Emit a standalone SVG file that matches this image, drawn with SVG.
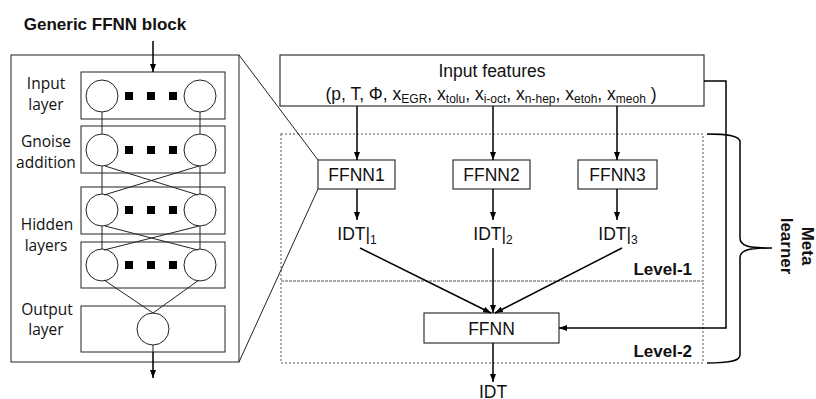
<svg xmlns="http://www.w3.org/2000/svg" width="816" height="399" viewBox="0 0 816 399">
<defs>
<marker id="ah" markerUnits="userSpaceOnUse" markerWidth="8" markerHeight="6" refX="8" refY="3" orient="auto">
<path d="M0,0 L8,3 L0,6 z" fill="#000"/>
</marker>
<style>
.thin{fill:none;stroke:#222;stroke-width:1}
.box{fill:#fff;stroke:#333;stroke-width:1.2}
.circ{fill:#fff;stroke:#222;stroke-width:1}
.sq{fill:#000}
.arr{fill:none;stroke:#000;stroke-width:1.5;marker-end:url(#ah)}
.ln{fill:none;stroke:#000;stroke-width:1.5}
.dot{fill:none;stroke:#aaa;stroke-width:2;stroke-dasharray:2 2}
.lbl{font-family:"Open Sans",sans-serif;font-size:15.5px;fill:#111;text-anchor:middle}
.t{font-family:"Liberation Sans",Arial,sans-serif;font-size:17.5px;fill:#111;text-anchor:middle}
.b{font-family:"Liberation Sans",Arial,sans-serif;font-size:17px;font-weight:bold;fill:#111}
.sub{font-size:12px}
</style>
</defs>
<rect width="816" height="399" fill="#fff"/>

<text class="b" x="105" y="30" text-anchor="middle" font-size="18">Generic FFNN block</text>

<g id="generic-block">
<rect x="11" y="55" width="228" height="307" class="thin"/>
<g id="input-layer">
<rect x="81" y="72" width="144" height="47" class="thin"/>
<circle cx="102" cy="96" r="16" class="circ"/>
<circle cx="200" cy="96" r="16" class="circ"/>
<rect x="125" y="92" width="8" height="8" class="sq"/>
<rect x="147" y="92" width="8" height="8" class="sq"/>
<rect x="169" y="92" width="8" height="8" class="sq"/>
<text class="lbl" x="46" y="89">Input</text>
<text class="lbl" x="46" y="110">layer</text>
</g>
<g id="gnoise-layer">
<rect x="81" y="126" width="144" height="47" class="thin"/>
<circle cx="102" cy="150" r="16" class="circ"/>
<circle cx="200" cy="150" r="16" class="circ"/>
<rect x="125" y="146" width="8" height="8" class="sq"/>
<rect x="147" y="146" width="8" height="8" class="sq"/>
<rect x="169" y="146" width="8" height="8" class="sq"/>
<text class="lbl" x="46" y="147">Gnoise</text>
<text class="lbl" x="46" y="168">addition</text>
</g>
<g id="hidden-layers">
<rect x="81" y="187" width="144" height="47" class="thin"/>
<circle cx="102" cy="210" r="16" class="circ"/>
<circle cx="200" cy="210" r="16" class="circ"/>
<rect x="125" y="206" width="8" height="8" class="sq"/>
<rect x="147" y="206" width="8" height="8" class="sq"/>
<rect x="169" y="206" width="8" height="8" class="sq"/>
<rect x="81" y="242" width="144" height="46" class="thin"/>
<circle cx="102" cy="265" r="16" class="circ"/>
<circle cx="200" cy="265" r="16" class="circ"/>
<rect x="125" y="261" width="8" height="8" class="sq"/>
<rect x="147" y="261" width="8" height="8" class="sq"/>
<rect x="169" y="261" width="8" height="8" class="sq"/>
<text class="lbl" x="47" y="230">Hidden</text>
<text class="lbl" x="46" y="251">layers</text>
</g>
<g id="output-layer">
<rect x="81" y="306" width="144" height="46" class="thin"/>
<circle cx="153" cy="329" r="16" class="circ"/>
<text class="lbl" x="47" y="315">Output</text>
<text class="lbl" x="46" y="335">layer</text>
</g>
</g>

<g id="input-features">
<rect x="280" y="55" width="424" height="51" class="box"/>
<text class="t" x="492" y="77" font-size="18">Input features</text>
<text class="t" x="491" y="100" font-size="18">(p, T, Φ, x<tspan class="sub" dy="3">EGR</tspan><tspan dy="-3">, x</tspan><tspan class="sub" dy="3">tolu</tspan><tspan dy="-3">, x</tspan><tspan class="sub" dy="3">i-oct</tspan><tspan dy="-3">, x</tspan><tspan class="sub" dy="3">n-hep</tspan><tspan dy="-3">, x</tspan><tspan class="sub" dy="3">etoh</tspan><tspan dy="-3">, x</tspan><tspan class="sub" dy="3">meoh</tspan><tspan dy="-3"> )</tspan></text>
</g>

<g id="level-boxes">
<rect x="281" y="134" width="422" height="147" class="dot"/>
<rect x="281" y="281" width="422" height="82" class="dot"/>
<text class="b" x="692" y="275" text-anchor="end">Level-1</text>
<text class="b" x="692" y="357" text-anchor="end">Level-2</text>
</g>

<g id="ffnn1">
<rect x="318" y="160" width="77" height="29" class="box"/>
<text class="t" x="356.5" y="181">FFNN1</text>
</g>
<g id="ffnn2">
<rect x="453" y="160" width="77" height="29" class="box"/>
<text class="t" x="491.5" y="181">FFNN2</text>
</g>
<g id="ffnn3">
<rect x="578" y="160" width="79" height="29" class="box"/>
<text class="t" x="617.5" y="181">FFNN3</text>
</g>
<g id="idt1"><text class="t" x="357" y="240">IDT|<tspan class="sub" dy="4">1</tspan></text></g>
<g id="idt2"><text class="t" x="493" y="240">IDT|<tspan class="sub" dy="4">2</tspan></text></g>
<g id="idt3"><text class="t" x="618" y="240">IDT|<tspan class="sub" dy="4">3</tspan></text></g>
<g id="ffnn-meta">
<rect x="424" y="313" width="135" height="30" class="box"/>
<text class="t" x="491.5" y="335">FFNN</text>
</g>
<g id="idt-out"><text class="t" x="493" y="398">IDT</text></g>

<g id="meta-learner">
<path d="M707,134 C725,134 740,135 740,142 L740,238 C740,246 748,248 772,248 C748,248 740,250 740,258 L740,355 C740,362 725,363 707,363" class="ln" stroke-width="1.3"/>
<text class="b" transform="translate(802,246) rotate(90)" text-anchor="middle">Meta</text>
<text class="b" transform="translate(781,246) rotate(90)" text-anchor="middle">learner</text>
</g>

<g id="connectors">
<line x1="153" y1="41" x2="153" y2="72" class="arr"/>
<line x1="153" y1="352" x2="153" y2="378" class="arr"/>
<line x1="102" y1="112" x2="102" y2="134" class="thin"/>
<line x1="200" y1="112" x2="200" y2="134" class="thin"/>
<line x1="102" y1="166" x2="102" y2="194" class="thin"/>
<line x1="200" y1="166" x2="200" y2="194" class="thin"/>
<line x1="105" y1="166" x2="198" y2="195" class="thin"/>
<line x1="199" y1="166" x2="104" y2="195" class="thin"/>
<line x1="102" y1="226" x2="102" y2="249" class="thin"/>
<line x1="200" y1="226" x2="200" y2="249" class="thin"/>
<line x1="105" y1="226" x2="198" y2="250" class="thin"/>
<line x1="199" y1="226" x2="104" y2="250" class="thin"/>
<line x1="104" y1="280" x2="153" y2="313" class="thin"/>
<line x1="199" y1="280" x2="153" y2="313" class="thin"/>
<line x1="153" y1="345" x2="153" y2="352" class="thin"/>
<line x1="239" y1="55" x2="318" y2="160" class="thin"/>
<line x1="239" y1="362" x2="318" y2="189" class="thin"/>
<line x1="357" y1="106" x2="357" y2="160" class="arr"/>
<line x1="493" y1="106" x2="493" y2="160" class="arr"/>
<line x1="617" y1="106" x2="617" y2="160" class="arr"/>
<line x1="357" y1="189" x2="357" y2="220" class="arr"/>
<line x1="493" y1="189" x2="493" y2="220" class="arr"/>
<line x1="617" y1="189" x2="617" y2="220" class="arr"/>
<line x1="360" y1="248" x2="491" y2="313" class="arr"/>
<line x1="493" y1="248" x2="493" y2="313" class="arr"/>
<line x1="622" y1="248" x2="495" y2="313" class="arr"/>
<polyline points="704,81 726,81 726,328 559,328" class="arr"/>
<line x1="493" y1="343" x2="493" y2="382" class="arr"/>
</g>
</svg>
